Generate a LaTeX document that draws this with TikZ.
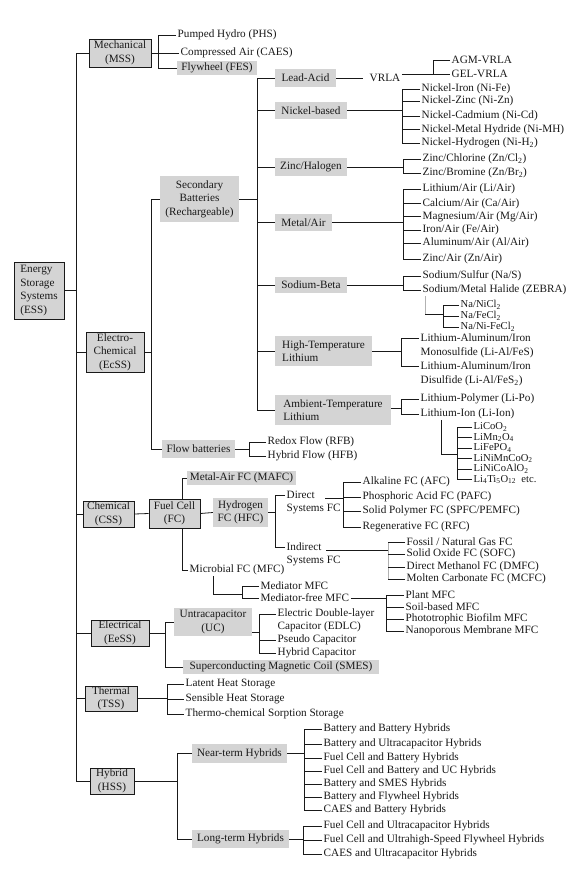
\documentclass[tikz,border=0pt]{standalone}
\usepackage{fontspec}
\setmainfont{Liberation Serif}
\definecolor{boxgray}{RGB}{212,212,212}
\definecolor{inkc}{RGB}{25,25,25}
\begin{document}
\begin{tikzpicture}[x=1pt,y=-1pt,
  every node/.style={font=\fontsize{11.2}{13.5}\selectfont, text=inkc},
  ln/.style={line width=0.8pt, draw=inkc},
  lg/.style={line width=0.8pt, draw=gray!60},
  bbox/.style={draw=inkc, line width=0.8pt, fill=boxgray, inner sep=0pt, align=center},
  gbox/.style={fill=boxgray, inner sep=0pt, align=center},
  txt/.style={anchor=west, inner xsep=1.5pt, inner ysep=1pt},
  ltxt/.style={anchor=west, inner xsep=1.5pt, inner ysep=0pt, font=\fontsize{10.6}{12}\selectfont}]
\useasboundingbox (0,0) rectangle (584,870);
\fill[white] (0,0) rectangle (584,870);

% ---------- bordered boxes ----------
\node[bbox, minimum width=50pt, minimum height=57pt, align=left] (ess) at (39,290.5) {Energy\\Storage\\Systems\\(ESS)};
\node[bbox, minimum width=62pt, minimum height=28pt] (mss) at (120,53) {Mechanical\\(MSS)};
\node[bbox, minimum width=58pt, minimum height=40pt] (ecss) at (115,352) {Electro-\\Chemical\\(EcSS)};
\node[bbox, minimum width=51pt, minimum height=26pt] (css) at (108.5,514) {Chemical\\(CSS)};
\node[bbox, minimum width=51pt, minimum height=29pt] (fc) at (174.5,513.5) {Fuel Cell\\(FC)};
\node[bbox, minimum width=58pt, minimum height=26pt] (eess) at (120,633) {Electrical\\(EeSS)};
\node[bbox, minimum width=52pt, minimum height=25pt] (tss) at (111,698.5) {Thermal\\(TSS)};
\node[bbox, minimum width=44pt, minimum height=26pt] (hss) at (112,781) {Hybrid\\(HSS)};

% ---------- gray boxes ----------
\node[gbox, minimum width=80pt, minimum height=14pt] (fes) at (217,68) {Flywheel (FES)};
\node[gbox, minimum width=79pt, minimum height=46pt] (sec) at (199.5,199) {Secondary\\Batteries\\(Rechargeable)};
\node[gbox, minimum width=61pt, minimum height=18pt] (lead) at (305.5,78) {Lead-Acid};
\node[gbox, minimum width=72pt, minimum height=17pt] (nib) at (311,110.5) {Nickel-based};
\node[gbox, minimum width=72pt, minimum height=18pt] (znh) at (311,167) {Zinc/Halogen};
\node[gbox, minimum width=57pt, minimum height=17pt] (mair) at (303.5,222.5) {Metal/Air};
\node[gbox, minimum width=72pt, minimum height=16pt] (sodb) at (311,285) {Sodium-Beta};
\node[gbox, minimum width=97pt, minimum height=30pt, align=left] (htl) at (323.5,351) {High-Temperature\\Lithium};
\node[gbox, minimum width=116pt, minimum height=30pt, align=left] (atl) at (333,410) {Ambient-Temperature\\Lithium};
\node[gbox, minimum width=73pt, minimum height=18pt] (flow) at (198.5,449) {Flow batteries};
\node[gbox, minimum width=109pt, minimum height=14pt] (mafc) at (241.5,478) {Metal-Air FC (MAFC)};
\node[gbox, minimum width=55pt, minimum height=29pt] (hfc) at (240.5,512.5) {Hydrogen\\FC (HFC)};
\node[gbox, minimum width=78pt, minimum height=28pt] (uc) at (213,622) {Untracapacitor\\(UC)};
\node[gbox, minimum width=196pt, minimum height=14pt] (smes) at (281,667) {Superconducting Magnetic Coil (SMES)};
\node[gbox, minimum width=95pt, minimum height=19pt] (near) at (239.5,753.5) {Near-term Hybrids};
\node[gbox, minimum width=97pt, minimum height=18pt] (long) at (240.5,839) {Long-term Hybrids};

% ---------- bracket joints ----------
\coordinate (tr) at (76,0);
\coordinate (bM) at (158,53);
\coordinate (bE) at (151,352);
\coordinate (bS) at (257,199);
\coordinate (bV) at (433,74);
\coordinate (bNi) at (402,110.5);
\coordinate (bZn) at (403,167);
\coordinate (bMA) at (403,222.5);
\coordinate (bNa) at (403,285);
\coordinate (bZ) at (443,314);
\coordinate (bH) at (401,351);
\coordinate (bA) at (401,410);
\coordinate (bLi) at (457,454);
\coordinate (bF) at (249,449);
\coordinate (bHF) at (275,512.5);
\coordinate (bD) at (343,498);
\coordinate (bI) at (388,550);
\coordinate (bMd) at (242,594);
\coordinate (bP) at (386,598);
\coordinate (bEl) at (165,633);
\coordinate (bU) at (259,632);
\coordinate (bT) at (167,698.5);
\coordinate (bHy) at (177,781);
\coordinate (bN) at (304,753.5);
\coordinate (bL) at (303,839);

% ---------- text leaves ----------
\node[txt] (phs) at (176,35) {Pumped Hydro (PHS)};
\node[txt] (caes) at (179,53) {Compressed Air (CAES)};

\node[txt] (vrla) at (368,78) {VRLA};
\node[txt] (agm) at (450,60) {AGM-VRLA};
\node[txt] (gel) at (450,74) {GEL-VRLA};

\node[txt] (ni1) at (420,89) {Nickel-Iron (Ni-Fe)};
\node[txt] (ni2) at (420,101) {Nickel-Zinc (Ni-Zn)};
\node[txt] (ni3) at (420,116) {Nickel-Cadmium (Ni-Cd)};
\node[txt] (ni4) at (420,129.5) {Nickel-Metal Hydride (Ni-MH)};
\node[txt] (ni5) at (420,143) {Nickel-Hydrogen (Ni-H\textsubscript{2})};

\node[txt] (zn1) at (421,159) {Zinc/Chlorine (Zn/Cl\textsubscript{2})};
\node[txt] (zn2) at (421,173) {Zinc/Bromine (Zn/Br\textsubscript{2})};

\node[txt] (ma1) at (421,189) {Lithium/Air (Li/Air)};
\node[txt] (ma2) at (421,203.5) {Calcium/Air (Ca/Air)};
\node[txt] (ma3) at (421,216.5) {Magnesium/Air (Mg/Air)};
\node[txt] (ma4) at (421,230) {Iron/Air (Fe/Air)};
\node[txt] (ma5) at (421,243) {Aluminum/Air (Al/Air)};
\node[txt] (ma6) at (421,259) {Zinc/Air (Zn/Air)};

\node[txt] (na1) at (421,276) {Sodium/Sulfur (Na/S)};
\node[txt] (na2) at (421,290) {Sodium/Metal Halide (ZEBRA)};
\node[ltxt] (z1) at (459,305) {Na/NiCl\textsubscript{2}};
\node[ltxt] (z2) at (459,316) {Na/FeCl\textsubscript{2}};
\node[ltxt] (z3) at (459,327) {Na/Ni-FeCl\textsubscript{2}};

\node[txt] (h1) at (419,338) {Lithium-Aluminum/Iron};
\node[txt] (h1b) at (419,353) {Monosulfide (Li-Al/FeS)};
\node[txt] (h2) at (419,366) {Lithium-Aluminum/Iron};
\node[txt] (h2b) at (419,381) {Disulfide (Li-Al/FeS\textsubscript{2})};

\node[txt] (a1) at (419,399) {Lithium-Polymer (Li-Po)};
\node[txt] (a2) at (419,414) {Lithium-Ion (Li-Ion)};
\node[ltxt] (l1) at (472,427) {LiCoO\textsubscript{2}};
\node[ltxt] (l2) at (472,437.5) {LiMn\textsubscript{2}O\textsubscript{4}};
\node[ltxt] (l3) at (472,448) {LiFePO\textsubscript{4}};
\node[ltxt] (l4) at (472,458.5) {LiNiMnCoO\textsubscript{2}};
\node[ltxt] (l5) at (472,469) {LiNiCoAlO\textsubscript{2}};
\node[ltxt] (l6) at (472,479.5) {Li\textsubscript{4}Ti\textsubscript{5}O\textsubscript{12}\ \ etc.};

\node[txt] (rfb) at (266,442) {Redox Flow (RFB)};
\node[txt] (hfb) at (266,456) {Hybrid Flow (HFB)};

\node[txt] (dir) at (285,495) {Direct};
\node[txt] (dirb) at (285,509) {Systems FC};
\node[txt] (ind) at (285,547) {Indirect};
\node[txt] (indb) at (285,561) {Systems FC};

\node[txt] (afc) at (361,482) {Alkaline FC (AFC)};
\node[txt] (pafc) at (361,497) {Phosphoric Acid FC (PAFC)};
\node[txt] (spfc) at (361,511) {Solid Polymer FC (SPFC/PEMFC)};
\node[txt] (rfc) at (361,527) {Regenerative FC (RFC)};

\node[txt] (ff1) at (405,542) {Fossil / Natural Gas FC};
\node[txt] (ff2) at (405,554) {Solid Oxide FC (SOFC)};
\node[txt] (ff3) at (405,567) {Direct Methanol FC (DMFC)};
\node[txt] (ff4) at (405,579) {Molten Carbonate FC (MCFC)};

\node[txt] (mfc) at (188,570) {Microbial FC (MFC)};
\node[txt] (med1) at (259,586) {Mediator MFC};
\node[txt] (med2) at (259,598) {Mediator-free MFC};
\node[txt] (pl1) at (404,595) {Plant MFC};
\node[txt] (pl2) at (404,607) {Soil-based MFC};
\node[txt] (pl3) at (404,619) {Phototrophic Biofilm MFC};
\node[txt] (pl4) at (404,631) {Nanoporous Membrane MFC};

\node[txt] (edl1) at (276,614) {Electric Double-layer};
\node[txt] (edl2) at (276,627) {Capacitor (EDLC)};
\node[txt] (pse) at (276,640) {Pseudo Capacitor};
\node[txt] (hyc) at (276,653) {Hybrid Capacitor};

\node[txt] (th1) at (184,684) {Latent Heat Storage};
\node[txt] (th2) at (184,699) {Sensible Heat Storage};
\node[txt] (th3) at (184,714) {Thermo-chemical Sorption Storage};

\node[txt] (nh1) at (322,729) {Battery and Battery Hybrids};
\node[txt] (nh2) at (322,744) {Battery and Ultracapacitor Hybrids};
\node[txt] (nh3) at (322,758) {Fuel Cell and Battery Hybrids};
\node[txt] (nh4) at (322,771) {Fuel Cell and Battery and UC Hybrids};
\node[txt] (nh5) at (322,784) {Battery and SMES Hybrids};
\node[txt] (nh6) at (322,797) {Battery and Flywheel Hybrids};
\node[txt] (nh7) at (322,810) {CAES and Battery Hybrids};

\node[txt] (lh1) at (322,826) {Fuel Cell and Ultracapacitor Hybrids};
\node[txt] (lh2) at (322,840) {Fuel Cell and Ultrahigh-Speed Flywheel Hybrids};
\node[txt] (lh3) at (322,854) {CAES and Ultracapacitor Hybrids};

% ---------- connectors ----------
% trunk
\draw[ln] (mss.west) -- (mss.west -| tr) -- (hss.west -| tr) -- (hss.west);
\draw[ln] (ess.east) -- (ess.east -| tr);
\draw[ln] (ecss.west) -- (ecss.west -| tr);
\draw[ln] (css.west) -- (css.west -| tr);
\draw[ln] (eess.west) -- (eess.west -| tr);
\draw[ln] (tss.west) -- (tss.west -| tr);

% mechanical
\draw[ln] (mss.east) -- (bM);
\draw[ln] (phs.west) -| (bM);
\draw[ln] (fes.west) -| (bM);
\draw[ln] (caes.west) -- (caes.west -| bM);

% electro-chemical
\draw[ln] (ecss.east) -- (bE);
\draw[ln] (sec.west) -| (bE);
\draw[ln] (flow.west) -| (bE);

% secondary batteries
\draw[ln] (sec.east) -- (bS);
\draw[ln] (lead.west) -| (bS);
\draw[ln] (atl.west) -| (bS);
\foreach \n in {nib,znh,mair,sodb,htl} \draw[ln] (\n.west) -- (\n.west -| bS);

% lead-acid
\draw[ln] (lead.east) -- ([xshift=-5pt]vrla.west);
\draw[ln] (vrla.east |- gel.west) -- (gel.west);
\draw[ln] (agm.west) -| (bV);

% nickel
\draw[ln] (nib.east) -- (bNi);
\draw[ln] (ni1.west) -| (bNi);
\draw[ln] (ni5.west) -| (bNi);
\foreach \n in {ni2,ni3,ni4} \draw[ln] (\n.west) -- (\n.west -| bNi);

% zinc
\draw[ln] (znh.east) -- (bZn);
\draw[ln] (zn1.west) -| (bZn);
\draw[ln] (zn2.west) -| (bZn);

% metal air
\draw[ln] (mair.east) -- (bMA);
\draw[ln] (ma1.west) -| (bMA);
\draw[ln] (ma6.west) -| (bMA);
\foreach \n in {ma2,ma3,ma4,ma5} \draw[ln] (\n.west) -- (\n.west -| bMA);

% sodium beta
\draw[ln] (sodb.east) -- (bNa);
\draw[ln] (na1.west) -| (bNa);
\draw[ln] (na2.west) -| (bNa);
\coordinate (zs) at ([xshift=4pt]na2.south west);
\draw[lg] (zs) -- (zs |- bZ);
\draw[ln] (zs |- bZ) -- (bZ);
\draw[ln] (z1.west) -| (bZ);
\draw[ln] (z3.west) -| (bZ);
\draw[ln] (z2.west) -- (z2.west -| bZ);

% high temperature
\draw[ln] (htl.east) -- (bH);
\draw[ln] (h1.west) -| (bH);
\draw[ln] (h2.west) -| (bH);

% ambient temperature
\draw[ln] ([yshift=2pt]atl.east) -- ([yshift=2pt]atl.east -| bA);
\draw[ln] (a1.west) -| (bA);
\draw[ln] (a2.west) -| (bA);
\coordinate (lis) at ([xshift=22pt]a2.south west);
\draw[ln] (lis) |- (bLi);
\draw[ln] (l1.west) -| (bLi);
\draw[ln] (l6.west) -| (bLi);
\foreach \n in {l2,l3,l4,l5} \draw[ln] (\n.west) -- (\n.west -| bLi);

% flow
\draw[ln] (flow.east) -- (bF);
\draw[ln] (rfb.west) -| (bF);
\draw[ln] (hfb.west) -| (bF);

% chemical / fuel cell
\draw[ln] (css.east) -- (fc.west);
\coordinate (fcn) at ([xshift=7.5pt]fc.north);
\coordinate (fcs) at ([xshift=7.5pt]fc.south);
\draw[ln] (mafc.west) -| (fcn);
\draw[ln] (mfc.west) -| (fcs);
\draw[ln] (fc.east) -- (hfc.west);
\draw[ln] (hfc.east) -- (bHF);
\draw[ln] (dir.west) -| (bHF);
\draw[ln] (ind.west) -| (bHF);

\coordinate (dirE) at ([xshift=9pt]dir.east);
\draw[ln] (dirE |- bD) -- (bD);
\draw[ln] (afc.west) -| (bD);
\draw[ln] (rfc.west) -| (bD);
\draw[ln] (pafc.west) -- (pafc.west -| bD);
\draw[ln] (spfc.west) -- (spfc.west -| bD);

\coordinate (indE) at ([xshift=3pt]ind.east);
\draw[ln] (indE |- bI) -- (bI);
\draw[lg] (ff1.west -| bI) -- (ff4.west -| bI);
\foreach \n in {ff1,ff2,ff3,ff4} \draw[ln] (\n.west) -- (\n.west -| bI);

\coordinate (mds) at ([xshift=25pt]mfc.south west);
\draw[ln] (mds) |- (bMd);
\draw[ln] (med1.west) -| (bMd);
\draw[ln] (med2.west) -| (bMd);
\draw[ln] (med2.east) -- (bP);
\draw[ln] (pl1.west) -| (bP);
\draw[ln] (pl4.west) -| (bP);
\foreach \n in {pl2,pl3} \draw[ln] (\n.west) -- (\n.west -| bP);

% electrical
\draw[ln] (eess.east) -- (bEl);
\draw[ln] (uc.west) -| (bEl);
\draw[ln] (smes.west) -| (bEl);
\coordinate (ucE) at ([yshift=-10pt]uc.east);
\draw[ln] (ucE) -- (ucE -| bU);
\draw[ln] (edl1.west) -| (bU);
\draw[ln] (hyc.west) -| (bU);
\draw[ln] (pse.west) -- (pse.west -| bU);

% thermal
\draw[ln] (tss.east) -- (bT);
\draw[ln] (th1.west) -| (bT);
\draw[ln] (th3.west) -| (bT);
\draw[ln] (th2.west) -- (th2.west -| bT);

% hybrid
\draw[ln] (hss.east) -- (bHy);
\draw[ln] (near.west) -| (bHy);
\draw[ln] (long.west) -| (bHy);
\draw[ln] (near.east) -- (bN);
\draw[ln] (nh1.west) -| (bN);
\draw[ln] (nh7.west) -| (bN);
\foreach \n in {nh2,nh3,nh4,nh5,nh6} \draw[ln] (\n.west) -- (\n.west -| bN);
\draw[ln] (long.east) -- (bL);
\draw[ln] (lh1.west) -| (bL);
\draw[ln] (lh3.west) -| (bL);
\draw[ln] (lh2.west) -- (lh2.west -| bL);
\end{tikzpicture}
\end{document}
